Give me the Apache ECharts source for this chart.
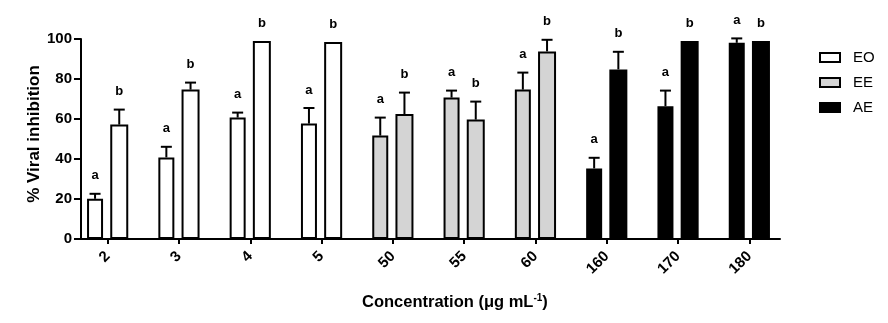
<!DOCTYPE html>
<html>
<head>
<meta charset="utf-8">
<script src="https://cdn.jsdelivr.net/npm/echarts@6/dist/echarts.min.js"></script>
<style>
html,body{margin:0;padding:0;background:#fff;}
#chart{width:888px;height:323px;}
</style>
</head>
<body>
<div id="chart"></div>
<script>
// ---- data ----
var categories = ['2', '3', '4', '5', '50', '55', '60', '160', '170', '180'];
var extractOf  = ['EO', 'EO', 'EO', 'EO', 'EE', 'EE', 'EE', 'AE', 'AE', 'AE'];
var extracts   = ['EO', 'EE', 'AE'];
var valuesA = [20.1, 40.8, 60.7, 57.7, 51.7, 70.7, 74.7, 35.3, 66.4, 98.1];
var errorsA = [2.5, 5.3, 2.5, 7.8, 9.0, 3.5, 8.5, 5.3, 7.8, 2.2];
var valuesB = [57.2, 74.7, 99.0, 98.5, 62.5, 59.7, 93.8, 84.8, 99.0, 99.0];
var errorsB = [7.5, 3.5, 0, 0, 10.7, 9.0, 5.8, 8.8, 0, 0];
var lettersA = ['a', 'a', 'a', 'a', 'a', 'a', 'a', 'a', 'a', 'a'];
var lettersB = ['b', 'b', 'b', 'b', 'b', 'b', 'b', 'b', 'b', 'b'];
var yTicks = [0, 20, 40, 60, 80, 100];

// ---- styles ----
var FONT = '"Liberation Sans", Arial, sans-serif';
var fills = { EO: '#ffffff', EE: '#d4d4d4', AE: '#000000' };
var BAR_A = 16, BAR_B = 18, GAP = 0.45;

var chart = echarts.init(document.getElementById('chart'), null, { renderer: 'canvas' });

var series = [];
['a', 'b'].forEach(function (k) {
  var vals = k === 'a' ? valuesA : valuesB;
  extracts.forEach(function (ex) {
    series.push({
      type: 'bar',
      name: ex,
      stack: k,
      xAxisIndex: 0, yAxisIndex: 0,
      barWidth: k === 'a' ? BAR_A : BAR_B,
      barGap: (GAP * 100) + '%',
      itemStyle: { color: fills[ex], borderColor: '#000', borderWidth: 2 },
      emphasis: { disabled: true },
      data: vals.map(function (v, i) { return extractOf[i] === ex ? v : '-'; })
    });
  });
});

// bar centre offsets within category (same rule as ECharts' bar layout)
var widthSum = BAR_A * (1 + GAP) + BAR_B;
var offA = -widthSum / 2 + BAR_A / 2;
var offB = -widthSum / 2 + BAR_A * (1 + GAP) + BAR_B / 2;

function errSeries(vals, errs, letters, off) {
  return {
    type: 'custom',
    xAxisIndex: 0, yAxisIndex: 0,
    clip: false,
    silent: true,
    data: vals.map(function (v, i) { return [i, v, v + errs[i], letters[i]]; }),
    renderItem: function (params, api) {
      var base = api.coord([api.value(0), api.value(1)]);
      var top = api.coord([api.value(0), api.value(2)]);
      var x = base[0] + off;
      var children = [];
      if (api.value(2) > api.value(1)) {
        children.push({ type: 'line', shape: { x1: x, y1: base[1], x2: x, y2: top[1] },
          style: { stroke: '#000', lineWidth: 2 } });
        children.push({ type: 'line', shape: { x1: x - 5.5, y1: top[1], x2: x + 5.5, y2: top[1] },
          style: { stroke: '#000', lineWidth: 2 } });
      }
      children.push({ type: 'text', style: { text: letters[params.dataIndex], x: x, y: top[1] - 18,
        align: 'center', verticalAlign: 'middle', font: 'bold 13px ' + FONT, fill: '#000' } });
      return { type: 'group', children: children };
    }
  };
}
series.push(errSeries(valuesA, errorsA, lettersA, offA));
series.push(errSeries(valuesB, errorsB, lettersB, offB));

var option = {
  animation: false,
  backgroundColor: '#fff',
  textStyle: { fontFamily: FONT },
  title: {
    left: 362, top: 293, padding: 0,
    text: '{m|Concentration (μg mL}{s|-1}{m|)}',
    textStyle: {
      rich: {
        m: { fontFamily: FONT, fontWeight: 'bold', fontSize: 16.5, color: '#000', lineHeight: 19 },
        s: { fontFamily: FONT, fontWeight: 'bold', fontSize: 10, color: '#000', lineHeight: 19, verticalAlign: 'top', padding: [0, 0, 6, 0] }
      }
    }
  },
  legend: {
    orient: 'vertical',
    left: 819, top: 50, padding: 0,
    itemWidth: 20, itemHeight: 9, itemGap: 10,
    icon: 'rect',
    data: extracts,
    textStyle: { fontFamily: FONT, fontSize: 15, color: '#000', padding: [0, 0, 0, 8] },
    selectedMode: false
  },
  grid: [
    { left: 72, width: 713, top: 39, height: 200 },
    { left: 79, width: 701, top: 39, height: 200 }
  ],
  xAxis: [
    {
      type: 'category', gridIndex: 0, data: categories,
      axisLine: { show: false },
      axisTick: { show: true, alignWithLabel: true, interval: 0, length: 5, lineStyle: { color: '#000', width: 2 } },
      axisLabel: { interval: 0, rotate: 45, margin: 15, color: '#000', fontWeight: 'bold', fontSize: 15, fontFamily: FONT },
      splitLine: { show: false }
    },
    {
      type: 'category', gridIndex: 1, data: categories,
      axisLine: { show: true, onZero: false, lineStyle: { color: '#000', width: 2 } },
      axisTick: { show: false }, axisLabel: { show: false }, splitLine: { show: false }
    }
  ],
  yAxis: [
    {
      type: 'value', gridIndex: 0, min: yTicks[0], max: yTicks[yTicks.length - 1], interval: 20,
      offset: -9,
      name: '% Viral inhibition', nameLocation: 'middle', nameGap: 38, nameMoveOverlap: false,
      nameTextStyle: { fontFamily: FONT, fontWeight: 'bold', fontSize: 17, color: '#000', padding: [0, 0, 0, 10] },
      axisLine: { show: true, lineStyle: { color: '#000', width: 2 } },
      axisTick: { show: true, length: 7, lineStyle: { color: '#000', width: 2 } },
      axisLabel: { margin: 9, color: '#000', fontWeight: 'bold', fontSize: 15, fontFamily: FONT },
      splitLine: { show: false }
    },
    { type: 'value', gridIndex: 1, min: 0, max: 100, show: false }
  ],
  series: series
};
chart.setOption(option);
</script>
</body>
</html>
